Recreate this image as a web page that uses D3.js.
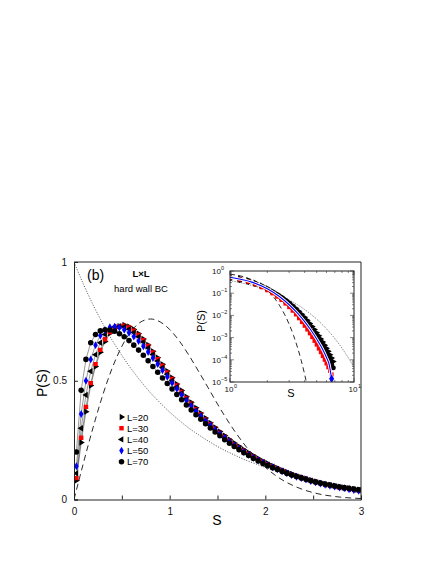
<!DOCTYPE html>
<html><head><meta charset="utf-8">
<script src="https://cdn.jsdelivr.net/npm/d3@7"></script>
<style>body{margin:0;background:#fff}svg{display:block;font-family:"Liberation Sans",Arial,sans-serif}</style>
</head><body><svg id="c" width="436" height="564"></svg>
<script>
// ---------- data (main panel) ----------
const sBins = [0.025,0.075,0.125,0.175,0.225,0.275,0.325,0.375,0.425,0.475,0.525,0.575,0.625,0.675,0.725,0.775,0.825,0.875,0.925,0.975,
1.025,1.075,1.125,1.175,1.225,1.275,1.325,1.375,1.425,1.475,1.525,1.575,1.625,1.675,1.725,1.775,1.825,1.875,1.925,1.975,
2.025,2.075,2.125,2.175,2.225,2.275,2.325,2.375,2.425,2.475,2.525,2.575,2.625,2.675,2.725,2.775,2.825,2.875,2.925,2.975];
const pL20 = [0.08,0.24,0.37,0.48,0.56,0.62,0.665,0.70,0.72,0.73,0.735,0.728,0.716,0.698,0.676,0.651,0.624,0.597,0.569,0.541,
0.513,0.486,0.459,0.433,0.409,0.386,0.364,0.343,0.323,0.304,0.286,0.269,0.253,0.238,0.224,0.21,0.197,0.185,0.173,0.162,
0.152,0.142,0.133,0.124,0.116,0.108,0.101,0.094,0.088,0.082,0.076,0.071,0.066,0.062,0.058,0.054,0.05,0.047,0.044,0.041];
const pL30 = [0.09,0.26,0.39,0.49,0.57,0.63,0.675,0.705,0.72,0.73,0.732,0.724,0.711,0.693,0.671,0.646,0.619,0.591,0.563,0.535,
0.507,0.48,0.453,0.427,0.403,0.38,0.358,0.337,0.317,0.298,0.28,0.263,0.247,0.232,0.218,0.205,0.192,0.18,0.169,0.158,
0.148,0.139,0.13,0.121,0.113,0.105,0.098,0.092,0.086,0.08,0.074,0.069,0.064,0.06,0.056,0.052,0.048,0.045,0.042,0.039];
const pL40 = [0.11,0.30,0.44,0.54,0.61,0.66,0.695,0.715,0.727,0.73,0.727,0.717,0.703,0.685,0.663,0.638,0.611,0.583,0.555,0.527,
0.50,0.474,0.448,0.423,0.399,0.376,0.354,0.333,0.313,0.295,0.277,0.26,0.245,0.23,0.216,0.203,0.19,0.178,0.167,0.157,
0.147,0.138,0.129,0.12,0.112,0.104,0.097,0.091,0.085,0.079,0.073,0.068,0.063,0.059,0.055,0.051,0.047,0.044,0.041,0.038];
const pL50 = [0.14,0.36,0.50,0.59,0.65,0.69,0.713,0.725,0.728,0.724,0.715,0.702,0.686,0.667,0.645,0.621,0.596,0.57,0.544,0.517,
0.491,0.466,0.441,0.417,0.394,0.372,0.351,0.331,0.312,0.293,0.276,0.259,0.243,0.228,0.214,0.201,0.188,0.176,0.165,0.155,
0.145,0.136,0.127,0.119,0.111,0.103,0.096,0.09,0.084,0.078,0.072,0.067,0.062,0.058,0.054,0.05,0.047,0.043,0.04,0.037];
const pL70 = [0.20,0.46,0.59,0.66,0.695,0.71,0.715,0.714,0.708,0.698,0.685,0.669,0.65,0.629,0.607,0.584,0.56,0.536,0.512,0.488,
0.465,0.442,0.42,0.398,0.377,0.357,0.338,0.319,0.301,0.284,0.268,0.252,0.237,0.223,0.21,0.197,0.185,0.173,0.162,0.152,
0.143,0.134,0.126,0.118,0.11,0.103,0.097,0.091,0.085,0.079,0.074,0.069,0.065,0.061,0.057,0.053,0.05,0.047,0.044,0.041];

// reference curves
const sRef = [0,0.1,0.2,0.3,0.4,0.5,0.6,0.7,0.8,0.9,1.0,1.1,1.2,1.3,1.4,1.5,1.6,1.7,1.8,1.9,2.0,2.1,2.2,2.3,2.4,2.5,2.6,2.7,2.8,2.9,3.0];
const pPoisson = [1,0.905,0.819,0.741,0.670,0.607,0.549,0.497,0.449,0.407,0.368,0.333,0.301,0.273,0.247,0.223,0.202,0.183,0.165,0.150,
0.135,0.122,0.111,0.100,0.091,0.082,0.074,0.067,0.061,0.055,0.050];
const pGOE = [0,0.156,0.304,0.439,0.554,0.645,0.710,0.748,0.760,0.748,0.716,0.668,0.608,0.541,0.472,0.402,0.336,0.276,0.222,0.175,
0.136,0.103,0.077,0.057,0.041,0.029,0.020,0.014,0.0093,0.0062,0.0040];

// ---------- data (inset, log-log) ----------
const sInsRef = [1,1.25,1.5,1.75,2,2.25,2.5,2.75,3,3.25,3.5,3.75,4,4.25,4.5,5,6,7,8,9,10];
const pInsPoisson = [0.368,0.287,0.223,0.174,0.135,0.105,0.082,0.064,0.0498,0.0388,0.0302,0.0235,0.0183,0.0143,0.0111,0.00674,0.00248,0.000912,0.000335,0.000123,0.0000454];
const pInsGOE = [0.716,0.576,0.402,0.248,0.136,0.0665,0.029,0.0113,0.0040,0.00127,0.000365,0.000094,0.000022,0.0000046,null,null,null,null,null,null,null];
const sIns = [1.0,1.2,1.4,1.6,1.8,2.0,2.2,2.4,2.6,2.8,3.0,3.2,3.4,3.6,3.8,4.0,4.2,4.4,4.6,4.8,5.0,5.2,5.4,5.6,5.8,6.0,6.2,6.4,6.6,6.8];
const pInsL20 = [0.55,0.468,0.38,0.302,0.229,0.17,0.126,0.0933,0.0708,0.0525,0.0389,0.0288,0.0209,0.0155,0.0112,0.0083,0.006,0.00437,0.00316,0.00229,
0.00166,0.0012,0.00087,0.00063,0.000457,0.000331,0.00024,0.00017,0.00012,0.000083];
const pInsL30 = [0.501,0.417,0.331,0.251,0.186,0.135,0.0977,0.0692,0.049,0.0339,0.0234,0.0162,0.011,0.0074,0.005,0.0034,0.0023,0.00155,0.00105,0.00071,
0.00048,0.00032,0.00022,0.000148,0.0001,0.000068,0.000046,0.000032,0.000022,null];
const pInsL70 = [0.457,0.38,0.316,0.251,0.195,0.148,0.11,0.0813,0.0589,0.0427,0.0309,0.0219,0.0155,0.011,0.00776,0.0055,0.00389,0.00275,0.00195,0.00138,
0.00098,0.00069,0.00049,0.000347,0.000245,0.000174,0.000123,0.000087,0.000062,0.000044];
const sInsFit = [1,1.5,2,2.5,3,3.5,4,4.5,5,5.5,6,6.3,6.6];
const pInsFit = [0.525,0.316,0.158,0.0708,0.0302,0.0126,0.00525,0.00214,0.00087,0.000347,0.000126,0.000063,0.000014];

const legendLabels = ["L=20","L=30","L=40","L=50","L=70"];
const xTickVals = [0,0.5,1,1.5,2,2.5,3];
const yTickVals = [0,0.5,1];
const insXTicks = [1,10];
const insYExp = [0,-1,-2,-3,-4,-5];

// ---------- drawing ----------
const svg = d3.select('#c');
const x = d3.scaleLinear().domain([0,3]).range([74,361]);
const y = d3.scaleLinear().domain([0,1]).range([499.5,262]);

const defs = svg.append('defs');
defs.append('clipPath').attr('id','mainClip').append('rect')
  .attr('x',74).attr('y',262).attr('width',287).attr('height',237.5);
defs.append('clipPath').attr('id','insClip').append('rect')
  .attr('x',230).attr('y',271).attr('width',124).attr('height',111);

const main = svg.append('g').attr('clip-path','url(#mainClip)');
const line = d3.line().x(d=>x(d[0])).y(d=>y(d[1])).curve(d3.curveMonotoneX);

main.append('path').datum(d3.zip(sRef,pPoisson)).attr('d',line)
  .attr('fill','none').attr('stroke','#222').attr('stroke-width',0.8).attr('stroke-dasharray','1,1.6');
main.append('path').datum(d3.zip(sRef,pGOE)).attr('d',line)
  .attr('fill','none').attr('stroke','#111').attr('stroke-width',0.9).attr('stroke-dasharray','6,4');

const series = [
  {v:pL20, color:'#000', sym:d3.symbolTriangle, rot:90, size:17},
  {v:pL30, color:'#ff0000', sym:d3.symbolSquare, rot:0, size:20},
  {v:pL40, color:'#000', sym:d3.symbolTriangle, rot:-90, size:17},
  {v:pL50, color:'#0000ff', sym:d3.symbolDiamond, rot:0, size:18},
  {v:pL70, color:'#000', sym:d3.symbolCircle, rot:0, size:24}
];
series.forEach(s=>{
  const pts = d3.zip(sBins,s.v);
  main.append('path').datum(pts).attr('d',d3.line().x(d=>x(d[0])).y(d=>y(d[1])))
    .attr('fill','none').attr('stroke','#333').attr('stroke-width',0.5);
});
series.forEach(s=>{
  const pts = d3.zip(sBins,s.v);
  main.append('g').selectAll('path').data(pts).join('path')
    .attr('d',d3.symbol().type(s.sym).size(s.size))
    .attr('transform',d=>`translate(${x(d[0])},${y(d[1])}) rotate(${s.rot})`)
    .attr('fill',s.color);
});

// axes
const axB = svg.append('g').attr('transform','translate(0,499.5)')
  .call(d3.axisBottom(x).tickValues(xTickVals).tickSize(-4).tickPadding(6)
  .tickFormat(d=>Number.isInteger(d)?d:''));
const axL = svg.append('g').attr('transform','translate(74,0)')
  .call(d3.axisLeft(y).tickValues(yTickVals).tickSize(-4).tickPadding(7)
  .tickFormat(d=>d===0.5?'0.5':d));
[axB,axL].forEach(a=>{
  a.select('.domain').attr('stroke','#222');
  a.selectAll('.tick line').attr('stroke','#222');
  a.selectAll('text').attr('font-size',10).attr('fill','#111').attr('font-family','"Liberation Sans",Arial,sans-serif');
});
axB.selectAll('text').attr('dy','0.9em');
svg.append('path').attr('d',`M74,262H361V499.5`).attr('fill','none').attr('stroke','#222');

svg.append('text').attr('x',217).attr('y',525).attr('text-anchor','middle').attr('font-size',14).text('S');
svg.append('text').attr('transform','translate(47,383) rotate(-90)').attr('text-anchor','middle').attr('font-size',14).text('P(S)');

svg.append('text').attr('x',87).attr('y',280).attr('font-size',14).text('(b)');
svg.append('text').attr('x',141).attr('y',277).attr('text-anchor','middle').attr('font-size',9.5).attr('font-weight','bold').text('L×L');
svg.append('text').attr('x',141).attr('y',292).attr('text-anchor','middle').attr('font-size',9.5).text('hard wall BC');

// legend
const leg = svg.append('g');
series.forEach((s,i)=>{
  const yy = 417 + i*11.2;
  leg.append('path').attr('d',d3.symbol().type(s.sym).size(s.size))
    .attr('transform',`translate(121.5,${yy}) rotate(${s.rot})`).attr('fill',s.color);
  leg.append('text').attr('x',127).attr('y',yy+3.5).attr('font-size',9.5).text(legendLabels[i]);
});

// ---------- inset ----------
const xi = d3.scaleLog().domain([1,10]).range([230,354]);
const yi = d3.scaleLog().domain([1e-5,1]).range([382,271]);
svg.append('rect').attr('x',230).attr('y',271).attr('width',124).attr('height',111).attr('fill','#fff');
const ins = svg.append('g').attr('clip-path','url(#insClip)');
const lineI = d3.line().defined(d=>d[1]!=null).x(d=>xi(d[0])).y(d=>yi(d[1])).curve(d3.curveMonotoneX);
ins.append('path').datum(d3.zip(sInsRef,pInsPoisson)).attr('d',lineI)
  .attr('fill','none').attr('stroke','#333').attr('stroke-width',0.7).attr('stroke-dasharray','1,1.3');
ins.append('path').datum(d3.zip(sInsRef,pInsGOE)).attr('d',lineI)
  .attr('fill','none').attr('stroke','#111').attr('stroke-width',0.9).attr('stroke-dasharray','5,3.5');
const insSeries = [
  {v:pInsL70, color:'#000', sym:d3.symbolCircle, rot:0, size:20},
  {v:pInsL20, color:'#000', sym:d3.symbolTriangle, rot:90, size:16},
  {v:pInsL30, color:'#ff0000', sym:d3.symbolSquare, rot:0, size:16}
];
insSeries.forEach(s=>{
  ins.append('g').selectAll('path').data(d3.zip(sIns,s.v).filter(d=>d[1]!=null)).join('path')
    .attr('d',d3.symbol().type(s.sym).size(s.size))
    .attr('transform',d=>`translate(${xi(d[0])},${yi(d[1])}) rotate(${s.rot})`)
    .attr('fill',s.color);
});
ins.append('path').datum(d3.zip(sIns,pInsL30)).attr('d',lineI)
  .attr('fill','none').attr('stroke','#ff0000').attr('stroke-width',1);
ins.append('path').datum(d3.zip(sInsFit,pInsFit)).attr('d',lineI)
  .attr('fill','none').attr('stroke','#fff').attr('stroke-width',3);
ins.append('path').datum(d3.zip(sInsFit,pInsFit)).attr('d',lineI)
  .attr('fill','none').attr('stroke','#0000ff').attr('stroke-width',1.1);
ins.append('path').attr('d',d3.symbol().type(d3.symbolDiamond).size(22))
  .attr('transform',`translate(${xi(sInsFit[sInsFit.length-1])},${yi(pInsFit[pInsFit.length-1])})`).attr('fill','#0000ff');

// inset ticks
const tk = svg.append('g').attr('stroke','#333').attr('stroke-width',0.6);
const xMinor = d3.range(1,11);
xMinor.forEach(v=>{
  const len = (v===1||v===10)?4:2;
  tk.append('line').attr('x1',xi(v)).attr('x2',xi(v)).attr('y1',382).attr('y2',382-len);
  tk.append('line').attr('x1',xi(v)).attr('x2',xi(v)).attr('y1',271).attr('y2',271+len);
});
insYExp.forEach(e=>{
  [1,2,3,4,5,6,7,8,9].forEach(m=>{
    const v = m*Math.pow(10,e);
    if (v>1) return;
    const len = m===1?4:2;
    tk.append('line').attr('x1',230).attr('x2',230+len).attr('y1',yi(v)).attr('y2',yi(v));
    tk.append('line').attr('x1',354).attr('x2',354-len).attr('y1',yi(v)).attr('y2',yi(v));
  });
});
svg.append('rect').attr('x',230).attr('y',271).attr('width',124).attr('height',111)
  .attr('fill','none').attr('stroke','#222').attr('stroke-width',1);

const lab = svg.append('g').attr('font-size',8).attr('fill','#111');
insYExp.forEach(e=>{
  const t = lab.append('text').attr('x',221).attr('y',yi(Math.pow(10,e))+3).attr('text-anchor','end');
  t.append('tspan').text('10');
  lab.append('text').attr('x',221).attr('y',yi(Math.pow(10,e))-1).attr('font-size',5.5).text(e===0?'0':'\u2212'+(-e));
});
insXTicks.forEach((v,i)=>{
  lab.append('text').attr('x',xi(v)-1).attr('y',392).attr('text-anchor','middle').text('10');
  lab.append('text').attr('x',xi(v)+4).attr('y',388).attr('font-size',5.5).text(String(i));
});
svg.append('text').attr('x',291).attr('y',397).attr('text-anchor','middle').attr('font-size',11).text('S');
svg.append('text').attr('transform','translate(205,321) rotate(-90)').attr('text-anchor','middle').attr('font-size',11).text('P(S)');
</script></body></html>
